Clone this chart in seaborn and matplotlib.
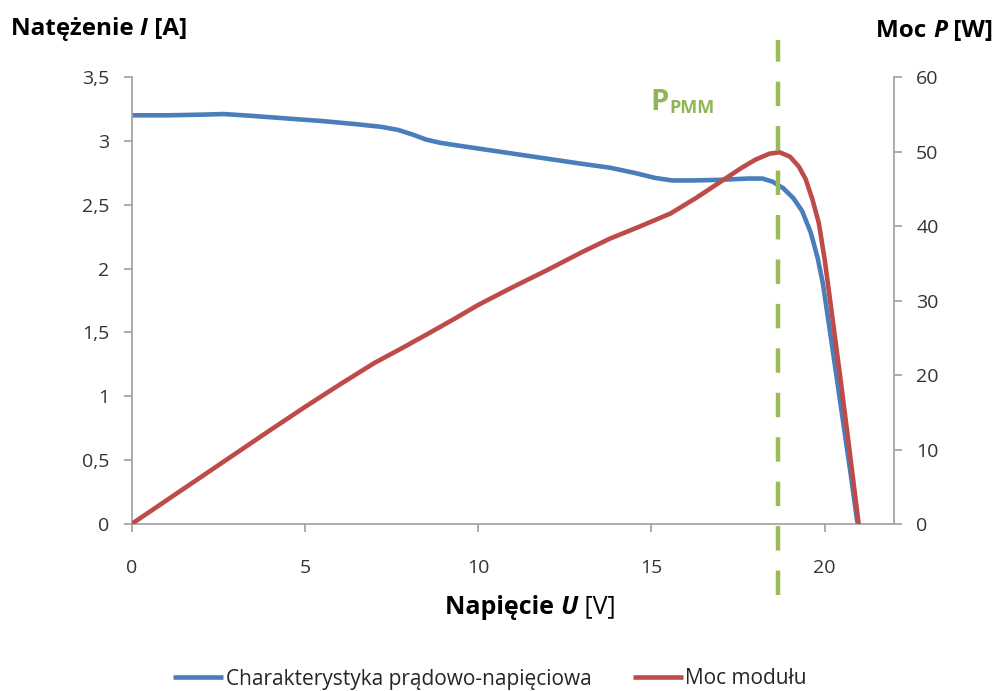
import matplotlib
matplotlib.use("Agg")
import matplotlib.pyplot as plt
import seaborn as sns
from matplotlib.ticker import FuncFormatter
from matplotlib.offsetbox import TextArea, HPacker, AnnotationBbox

# ---------------- data ----------------
u_current = [0, 1, 2, 2.66, 3.5, 4.5, 5.5, 6.5, 7.2, 7.7, 8.1, 8.5, 8.9, 9.5,
             10, 11, 12, 13, 13.8, 14.5, 15.1, 15.6, 16.2, 17, 17.8, 18.2,
             18.5, 18.8, 19.1, 19.35, 19.6, 19.8, 19.95, 20.2, 20.5, 20.75,
             20.95]
i_current = [3.20, 3.20, 3.205, 3.21, 3.195, 3.175, 3.155, 3.13, 3.11, 3.085,
             3.05, 3.01, 2.985, 2.96, 2.94, 2.90, 2.86, 2.82, 2.79, 2.75, 2.71,
             2.69, 2.69, 2.695, 2.705, 2.705, 2.68, 2.63, 2.55, 2.45, 2.28,
             2.08, 1.88, 1.42, 0.86, 0.39, 0.0]

u_power = [0, 2, 4, 5, 6, 7, 7.8, 8.5, 9.3, 10, 11, 12, 13, 13.8, 14.7, 15.56,
           16.3, 17.08, 17.6, 18.0, 18.4, 18.7, 19.0, 19.25, 19.45, 19.65,
           19.83, 20.0, 20.2, 20.46, 20.7, 20.98]
p_power = [0, 6.3, 12.6, 15.7, 18.7, 21.6, 23.6, 25.4, 27.5, 29.4, 31.8, 34.1,
           36.5, 38.3, 40.0, 41.7, 43.8, 46.2, 47.8, 48.9, 49.7, 49.9, 49.3,
           48.0, 46.3, 43.5, 40.4, 35.5, 28.5, 19.3, 10.5, 0.0]

u_mpp = 18.65

series_labels = ["Charakterystyka prądowo-napięciowa", "Moc modułu"]
x_ticks = [0, 5, 10, 15, 20]
left_ticks = [0, 0.5, 1, 1.5, 2, 2.5, 3, 3.5]
right_ticks = [0, 10, 20, 30, 40, 50, 60]

# ---------------- style ----------------
sns.set_style("ticks")
FONT = "Open Sans"
plt.rcParams["font.family"] = [FONT, "DejaVu Sans"]

BLUE = "#4A7EBB"
RED = "#BE4B48"
GREEN = "#9BBB59"
GREEN_TXT = "#8FB653"
SPINE = "#A6A6A6"
TICKLBL = "#333333"

fig = plt.figure(figsize=(9.97, 6.91), dpi=100)
ax = fig.add_axes([131.6 / 997, 1 - 524 / 691, (894 - 131.6) / 997, (524 - 77) / 691])

sns.lineplot(x=u_current, y=i_current, ax=ax, color=BLUE, linewidth=3.3,
             sort=False, legend=False)
ax2 = ax.twinx()
sns.lineplot(x=u_power, y=p_power, ax=ax2, color=RED, linewidth=3.3,
             sort=False, legend=False)
for ln in ax.get_lines() + ax2.get_lines():
    ln.set_solid_joinstyle("round")
    ln.set_solid_capstyle("butt")

ax.set_xlim(0, 22)
ax.set_ylim(0, 3.5)
ax2.set_ylim(0, 60)
ax.set_xticks(x_ticks)
ax.set_yticks(left_ticks)
ax2.set_yticks(right_ticks)

comma = FuncFormatter(lambda v, p: (f"{v:g}").replace(".", ","))
ax.yaxis.set_major_formatter(comma)
ax.xaxis.set_major_formatter(comma)
ax2.yaxis.set_major_formatter(comma)

ax.set_xlabel("")
ax.set_ylabel("")
ax2.set_ylabel("")

for a in (ax, ax2):
    for s in a.spines.values():
        s.set_color(SPINE)
        s.set_linewidth(1.3)
    a.spines["top"].set_visible(False)
ax.spines["right"].set_visible(False)
ax2.spines["left"].set_visible(False)
ax2.spines["bottom"].set_visible(False)

ax.tick_params(axis="both", direction="out", length=6, width=1.3, color=SPINE,
               labelsize=14, labelcolor=TICKLBL)
ax.tick_params(axis="y", pad=10)
ax.tick_params(axis="x", pad=19)
ax2.tick_params(axis="y", direction="out", length=6, width=1.3, color=SPINE,
                labelsize=14, labelcolor=TICKLBL, pad=10)

# MPP dashed line (extends beyond the axes)
ax2.axvline(u_mpp, ymin=-0.159, ymax=1.083, clip_on=False, color=GREEN,
            linewidth=3.2, dashes=(5.5, 4.5), zorder=10)

# P_PMM label
ptxt = ax.text(14.97, 3.24, "P", fontsize=21, fontweight="bold", family=FONT,
               color=GREEN_TXT, ha="left", va="baseline")
ax.annotate("PMM", xy=(1, 0), xycoords=ptxt, xytext=(0.5, 0.5),
            textcoords="offset points", fontsize=13, fontweight="bold",
            family=FONT, color=GREEN_TXT, ha="left", va="bottom")


def rich(parts, xy, align, size):
    kids = []
    for txt, weight, style in parts:
        kids.append(TextArea(txt, textprops=dict(fontsize=size, fontweight=weight,
                                                 fontstyle=style, family=FONT,
                                                 color="black")))
    box = HPacker(children=kids, align="baseline", pad=0, sep=0)
    ab = AnnotationBbox(box, xy, xycoords="figure fraction", box_alignment=align,
                        frameon=False, pad=0)
    fig.add_artist(ab)


rich([("Natężenie ", "bold", "normal"), ("I", "bold", "italic"), (" [A]", "bold", "normal")],
     (11 / 997, 1 - 29 / 691), (0, 0.5), 17.5)
rich([("Moc ", "bold", "normal"), ("P", "bold", "italic"), (" [W]", "bold", "normal")],
     (993 / 997, 1 - 31 / 691), (1, 0.5), 17.5)
rich([("Napięcie ", "bold", "normal"), ("U", "bold", "italic"), (" [V]", "normal", "normal")],
     (530 / 997, 1 - 607 / 691), (0.5, 0.5), 18)

# legend
handles = [ax.get_lines()[0], ax2.get_lines()[0]]
fig.legend(handles, series_labels, loc="center", bbox_to_anchor=(490 / 997, 1 - 679 / 691),
           ncol=2, frameon=False, fontsize=15, handlelength=2.4, handletextpad=0.1,
           columnspacing=2.0, labelcolor="#262626")

fig.savefig("out.png", dpi=100)
